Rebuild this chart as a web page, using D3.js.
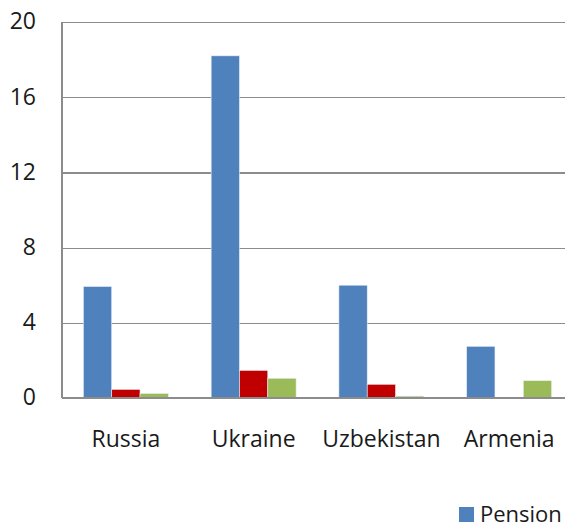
<!DOCTYPE html>
<html><head><meta charset="utf-8">
<script src="https://cdn.jsdelivr.net/npm/d3@7"></script>
<style>body{margin:0;background:#fff}svg{display:block}text{font-family:"Open Sans",sans-serif;fill:#1a1a1a}</style>
</head><body><svg id="c" width="565" height="524"></svg>
<script>
const categories = ["Russia", "Ukraine", "Uzbekistan", "Armenia"];
const seriesNames = ["Pension", "Series 2", "Series 3"];
const pension = [5.93, 18.2, 6.0, 2.75];
const series2 = [0.46, 1.47, 0.73, 0];
const series3 = [0.24, 1.05, 0.1, 0.92];
const yTicks = [0, 4, 8, 12, 16, 20];
const colors = ["#4F81BD", "#C00000", "#9BBB59"];

(function () {
const seriesValues = [pension, series2, series3];
const svg = d3.select("#c");
const left = 62, topY = 22, bottom = 398, right = 573;
const x = d3.scaleBand().domain(categories).range([left, right]).paddingInner(0.335).paddingOuter(0.1675);
const xs = d3.scaleBand().domain(d3.range(seriesNames.length)).range([0, x.bandwidth()]);
const y = d3.scaleLinear().domain([0, 20]).range([bottom, topY]);

const yAxis = d3.axisLeft(y).tickValues(yTicks).tickSize(-(right - left)).tickPadding(26).tickFormat(d3.format("d"));
const ga = svg.append("g").attr("transform", `translate(${left},0)`).call(yAxis);
ga.select(".domain").remove();
ga.selectAll(".tick line").attr("stroke", "#8c8c8c").attr("stroke-width", 1.2).attr("shape-rendering","crispEdges");
ga.selectAll(".tick text").attr("font-size", 23).attr("font-family", '"Open Sans",sans-serif').attr("fill", "#1a1a1a").attr("dy", "0.3em");
svg.append("line").attr("x1", left).attr("x2", left).attr("y1", topY).attr("y2", bottom)
  .attr("stroke", "#8c8c8c").attr("stroke-width", 1.2).attr("shape-rendering","crispEdges");

categories.forEach((c, i) => {
  const g = svg.append("g").attr("transform", `translate(${x(c)},0)`);
  g.selectAll("rect").data(seriesValues.map((s, k) => ({k, v: s[i]})).filter(d => d.v > 0)).join("rect")
    .attr("x", d => xs(d.k)).attr("width", xs.bandwidth())
    .attr("y", d => y(d.v)).attr("height", d => y(0) - y(d.v))
    .attr("fill", d => colors[d.k]).attr("stroke", "#e8eef6").attr("stroke-width", 0.6);
});
svg.append("line").attr("x1", left).attr("x2", right).attr("y1", bottom).attr("y2", bottom)
  .attr("stroke", "#8c8c8c").attr("stroke-width", 1.4).attr("shape-rendering","crispEdges");

svg.append("g").selectAll("text").data(categories).join("text")
  .attr("x", d => x(d) + x.bandwidth() / 2).attr("y", 447)
  .attr("text-anchor", "middle").attr("font-size", 23).text(d => d);

const lg = svg.append("g");
lg.append("rect").attr("x", 459).attr("y", 507).attr("width", 15).attr("height", 15).attr("fill", colors[0]);
lg.append("text").attr("x", 480).attr("y", 522).attr("font-size", 22).text(seriesNames[0]);
})();
</script></body></html>
